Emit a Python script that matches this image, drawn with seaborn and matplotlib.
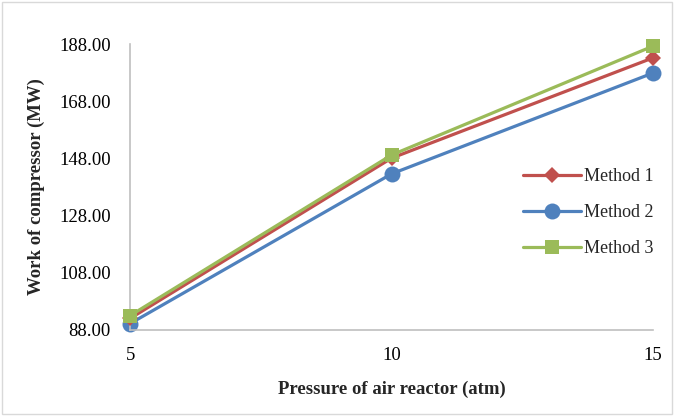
import matplotlib
matplotlib.use("Agg")
import matplotlib.pyplot as plt
import seaborn as sns
import pandas as pd
from matplotlib.patches import Rectangle

pressure = [5, 10, 15]
method1 = [92.0, 148.1, 183.2]
method2 = [90.2, 142.6, 177.9]
method3 = [93.0, 149.2, 187.3]
methods = ["Method 1", "Method 2", "Method 3"]
yticks = [88, 108, 128, 148, 168, 188]

rows = []
for name, vals in zip(methods, [method1, method2, method3]):
    for p, v in zip(pressure, vals):
        rows.append({"Pressure": p, "Work": v, "Method": name})
df = pd.DataFrame(rows)

sns.set_theme(style="white")
plt.rcParams['font.family'] = ['Liberation Serif', 'DejaVu Serif']

fig = plt.figure(figsize=(6.74, 4.16), dpi=100)
ax = fig.add_axes([0.193, 0.207, 0.776, 0.687])

palette = {"Method 1": "#C0504D", "Method 2": "#4F81BD", "Method 3": "#9BBB59"}
markers = {"Method 1": "D", "Method 2": "o", "Method 3": "s"}
sizes_m = {"Method 1": 8, "Method 2": 11.5, "Method 3": 10.5}
zorders = {"Method 1": 3, "Method 2": 2, "Method 3": 4}

for name in methods:
    sub = df[df["Method"] == name]
    sns.lineplot(data=sub, x="Pressure", y="Work", ax=ax, color=palette[name],
                 marker=markers[name], markersize=sizes_m[name], linewidth=2.3,
                 markeredgewidth=0, label=name, zorder=zorders[name], clip_on=False)

ax.set_xlim(5, 15)
ax.set_ylim(88, 188)
ax.set_xticks(pressure)
ax.set_xticklabels([str(p) for p in pressure])
ax.set_yticks(yticks)
ax.set_yticklabels([f"{t:.2f}" for t in yticks])
ax.tick_params(axis='both', length=0, labelsize=13.5, colors='black')
ax.tick_params(axis='x', pad=12)
ax.tick_params(axis='y', pad=14)

for s in ["top", "right"]:
    ax.spines[s].set_visible(False)
for s in ["left", "bottom"]:
    ax.spines[s].set_color("#BFBFBF")
    ax.spines[s].set_linewidth(1.2)

ax.set_xlabel("Pressure of air reactor (atm)", fontsize=13.5, fontweight="bold", labelpad=12)
ax.set_ylabel("Work of compressor (MW)", fontsize=13.5, fontweight="bold", labelpad=10)

leg = ax.legend(loc="center left", bbox_to_anchor=(0.72, 0.41), frameon=False,
                fontsize=13, labelspacing=1.05, handlelength=3.2, handletextpad=0.2)

fig.patches.append(Rectangle((0.003, 0.006), 0.994, 0.99, transform=fig.transFigure,
                             fill=False, edgecolor="#D9D9D9", linewidth=1.0))

fig.savefig("out.png", dpi=100)
